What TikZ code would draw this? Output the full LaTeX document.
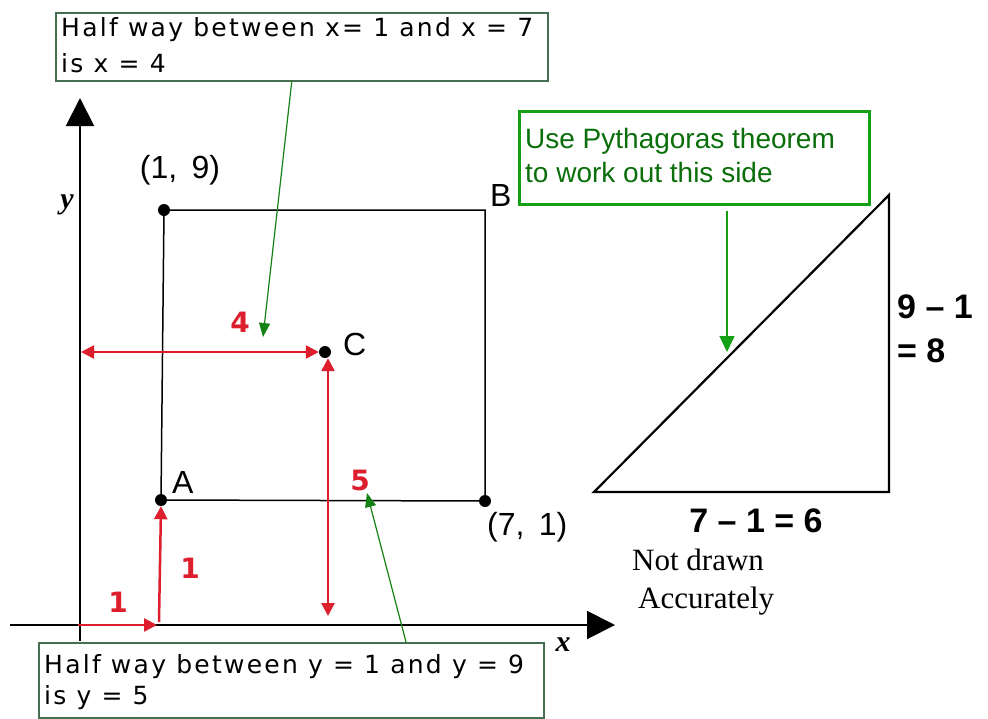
\documentclass[tikz,border=0pt]{standalone}
\usepackage{fontspec}
\usetikzlibrary{arrows.meta,calc}
\newfontfamily\boxfont[LetterSpace=9]{DejaVu Sans}
\newfontfamily\numfont{DejaVu Sans}
\newfontfamily\arialfont{Liberation Sans}
\newfontfamily\timesfont{Liberation Serif}
\definecolor{myred}{RGB}{220,30,45}
\definecolor{boxgreen}{RGB}{70,110,80}
\definecolor{brightgreen}{RGB}{20,160,20}
\definecolor{textgreen}{RGB}{10,110,10}
\definecolor{arrgreen}{RGB}{20,130,20}
\begin{document}
\begin{tikzpicture}[x=1pt,y=-1pt,
  axisline/.style={line width=2pt,-{Triangle[length=28pt,width=28pt]}},
  rectline/.style={line width=1.5pt},
  dot/.style={circle,fill=black,inner sep=0pt,minimum size=12pt},
  redarr/.style={draw=myred,line width=2.5pt,-{Triangle[length=13pt,width=13pt]}},
  redarrboth/.style={draw=myred,line width=2.5pt,{Triangle[length=13pt,width=13pt]}-{Triangle[length=13pt,width=13pt]}},
  rednum/.style={text=myred,font=\numfont\bfseries\fontsize{28}{28}\selectfont,inner sep=0pt},
  lab/.style={font=\arialfont\fontsize{32}{32}\selectfont,inner sep=0pt},
  axlab/.style={font=\timesfont\bfseries\itshape\fontsize{30}{30}\selectfont,inner sep=0pt},
  notebox/.style={draw=boxgreen,line width=1.5pt,fill=white,inner sep=0pt},
  notetext/.style={font=\boxfont\fontsize{25}{25}\selectfont,inner sep=0pt,anchor=base west},
  greenarr/.style={draw=arrgreen,line width=1.2pt,-{Triangle[length=14pt,width=11pt]}},
  trifont/.style={font=\arialfont\bfseries\fontsize{34}{34}\selectfont,inner sep=0pt},
  noteserif/.style={font=\timesfont\fontsize{31}{31}\selectfont,inner sep=0pt,anchor=base west}
]
\useasboundingbox (0,0) rectangle (988,718);
\fill[white] (0,0) rectangle (988,718);

% axes
\coordinate (yax0) at (80,641);
\coordinate (yax1) at (80,98);
\coordinate (xax0) at (10,625);
\coordinate (xax1) at (615,625);
\draw[axisline] (yax0) -- (yax1);
\draw[axisline] (xax0) -- (xax1);
\node[axlab] (ylab) at (67,205) {y};
\node[axlab] (xlab) at (563,645) {x};

% rectangle
\node[dot] (P19) at (164,210) {};
\coordinate (Bc) at (485,210);
\node[dot] (A) at (161,500) {};
\node[dot] (P71) at (485,501) {};
\node[dot] (C) at (325,352) {};
\draw[rectline] (P19.center) -- (Bc) -- (P71.center) -- (A.center) -- cycle;

\node[lab,anchor=base] (l19) at (180,178) {(1,\, 9)};
\node[lab,anchor=base west] (lB) at (490,206) {B};
\node[lab,anchor=base west] (lC) at (343,355) {C};
\node[lab,anchor=base west] (lA) at (172,493) {A};
\node[lab,anchor=base west] (l71) at (487,535) {(7,\, 1)};

% red arrows
\coordinate (h4l) at (81,352);
\coordinate (c5b) at (328,616);
\coordinate (o1) at (78,625);
\coordinate (o2) at (157,625);
\coordinate (o3) at (159,622);
\draw[redarrboth] (h4l) -- (C.west);
\draw[redarrboth] (C.south -| c5b) -- (c5b);
\draw[redarr] (o1) -- (o2);
\draw[redarr] (o3) -- (A.south);
\node[rednum] (n4) at (240,322) {4};
\node[rednum] (n5) at (360,480) {5};
\node[rednum] (n1a) at (118,602) {1};
\node[rednum] (n1b) at (190,568) {1};

% top note box
\node[notebox,minimum width=492pt,minimum height=68pt,anchor=north west] (tbox) at (55,12) {};
\node[notetext] (t1) at (61,36) {Half way between x= 1 and x = 7};
\node[notetext] (t2) at (61,72) {is x = 4};
\coordinate (g1) at (263,337);
\draw[greenarr] ([xshift=-10pt]tbox.south) -- (g1);

% bottom note box
\node[notebox,minimum width=505pt,minimum height=75pt,anchor=north west] (bbox) at (38,642) {};
\node[notetext] (b1) at (44,673) {Half way between y = 1 and y = 9};
\node[notetext] (b2) at (44,704) {is y = 5};
\coordinate (g2) at (367,493);
\draw[greenarr] ([xshift=368pt]bbox.north west) -- (g2);

% triangle
\coordinate (T1) at (594,492);
\coordinate (T2) at (889,492);
\coordinate (T3) at (889,195);
\draw[line width=2.2pt,line join=miter] (T1) -- (T2) -- (T3) -- cycle;

% pythagoras box
\node[draw=brightgreen,line width=3pt,fill=white,minimum width=350pt,minimum height=93pt,anchor=north west,inner sep=0pt] (pbox) at (518,110) {};
\node[font=\arialfont\fontsize{28}{28}\selectfont,text=textgreen,inner sep=0pt,anchor=base west] (p1) at (525,148) {Use Pythagoras theorem};
\node[font=\arialfont\fontsize{28}{28}\selectfont,text=textgreen,inner sep=0pt,anchor=base west] (p2) at (525,182) {to work out this side};
\coordinate (g3) at (727,352);
\draw[draw=brightgreen,line width=1.5pt,-{Triangle[length=16pt,width=15pt]}] (pbox.south -| g3) ++(0,5) -- (g3);

% side labels
\node[trifont,anchor=base west] (s1) at (897,318) {9 – 1};
\node[trifont,anchor=base west] (s2) at (897,362) {= 8};
\node[trifont,anchor=base] (s3) at (756,532) {7 – 1 = 6};
\node[noteserif] (nd1) at (632,570) {Not drawn};
\node[noteserif] (nd2) at (638,608) {Accurately};
\end{tikzpicture}
\end{document}
